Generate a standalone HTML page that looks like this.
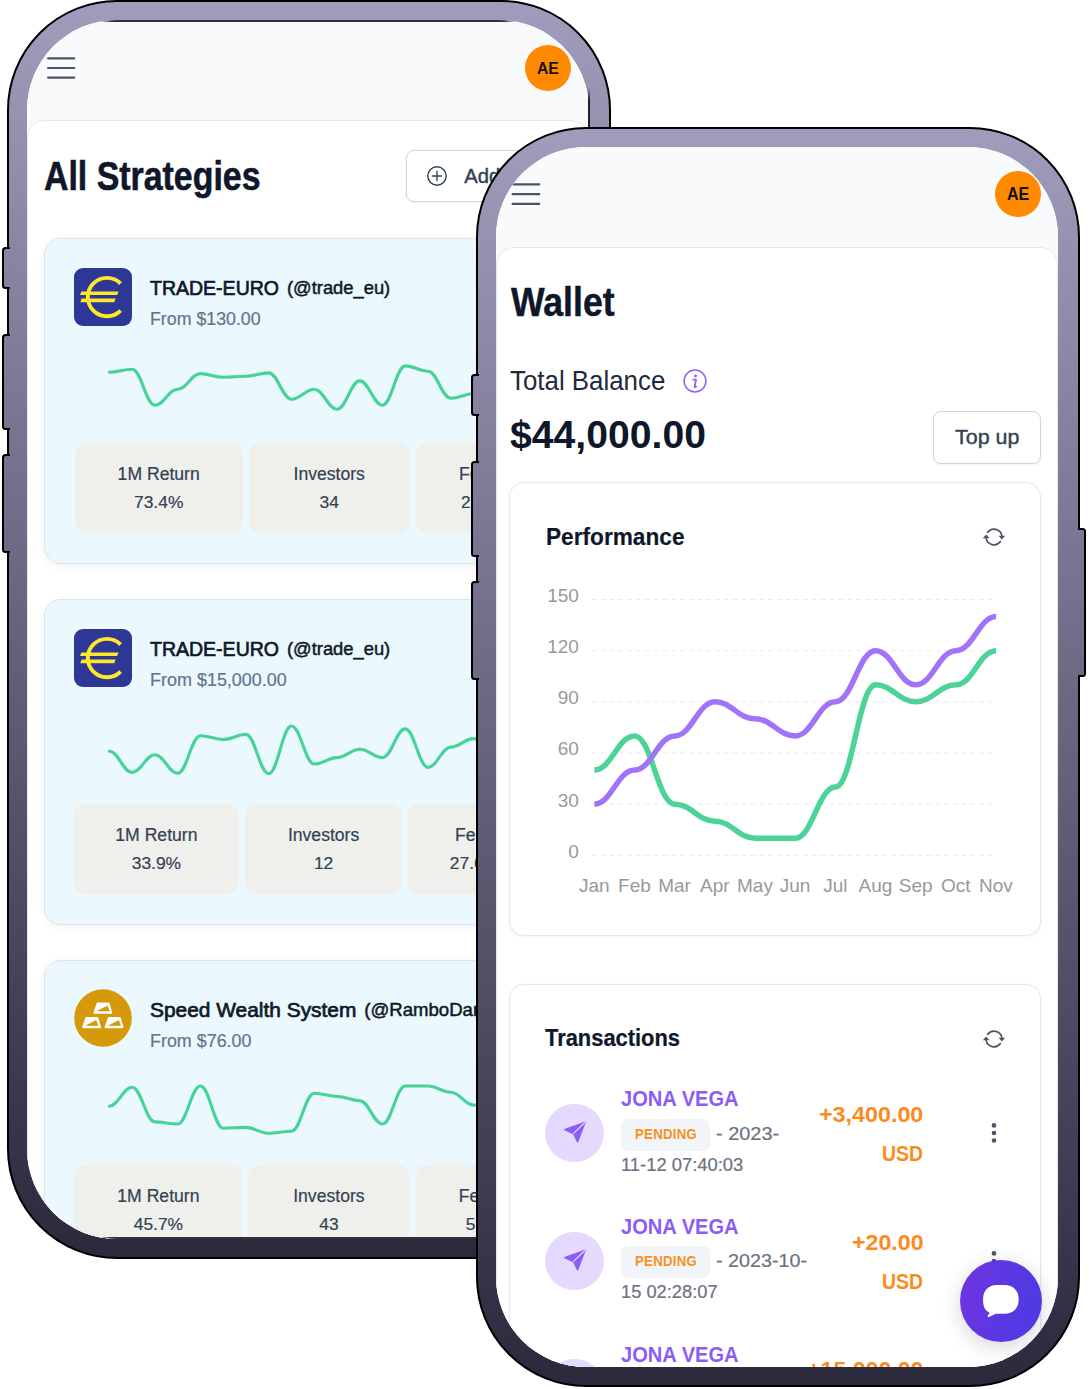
<!DOCTYPE html><html><head><meta charset="utf-8"><title>Wallet</title><style>
*{margin:0;padding:0;box-sizing:border-box}
html,body{width:1089px;height:1389px;overflow:hidden;background:#fff}
body{position:relative;font-family:"Liberation Sans", Arial, sans-serif}
.phone{position:absolute;width:604px;height:1259.3px}
.frame{position:absolute;left:0;top:0;width:604px;height:1259.3px;border:2px solid #000;border-radius:110px;background:linear-gradient(180deg,rgb(161,156,187) 0%,rgb(44,41,61) 100%)}
.sbtn{position:absolute;width:8px;border:2px solid #000}
.sl{border-right:none;border-radius:3.5px 0 0 3.5px}
.sr{border-left:none;border-radius:0 3.5px 3.5px 0}
.screen{position:absolute;overflow:hidden;border-radius:90px;background:#fff}
.abs{position:absolute}
.vline{position:absolute;width:1.8px;background:linear-gradient(180deg,rgba(25,24,32,0),rgba(25,24,32,.95) 12px,rgba(25,24,32,.95) calc(100% - 12px),rgba(25,24,32,0))}
.scrline{position:absolute;left:72px;right:72px;height:2px;background:linear-gradient(90deg,rgba(40,38,52,0),rgba(40,38,52,.95) 12px,rgba(40,38,52,.95) calc(100% - 12px),rgba(40,38,52,0))}
.t{position:absolute;white-space:nowrap;line-height:1;transform-origin:0 0}
.ct{position:absolute;white-space:nowrap;line-height:1;transform:translateX(-50%)}
.rt{position:absolute;white-space:nowrap;line-height:1;text-align:right}
.hdrbg{position:absolute;left:0;top:0;right:0;height:200px;background:#f8fafc}
.avatar{position:absolute;width:46px;height:46px;border-radius:50%;background:#ff8a00}
.panel{position:absolute;left:0;right:0;height:1400px;background:#fff;border:1px solid #e2e8f0;border-radius:18px 18px 0 0}
.obtn{position:absolute;border:1.5px solid #cbd5e1;border-radius:8px;background:#fff;box-shadow:0 1px 2px rgba(15,23,42,.06)}
.scard{position:absolute;width:527px;height:325.8px;background:#ebf8fe;border:1px solid #dde4ee;border-radius:17px;box-shadow:0 2px 8px rgba(15,23,42,.06)}
.stat{position:absolute;background:#eff0eb;border-radius:11px}
.wcard{position:absolute;background:#fff;border:1px solid #e3e8ef;border-radius:15px;box-shadow:0 1px 4px rgba(15,23,42,.05)}
.tav{position:absolute;width:58.4px;height:58.4px;border-radius:50%;background:#e5d9fd}
.badge{position:absolute;width:88.8px;height:32px;border-radius:7px;background:#f1f4f8}
.fab{position:absolute;width:82px;height:82px;border-radius:50%;background:linear-gradient(100deg,#6f34e2 0%,#4a3be3 100%);box-shadow:0 5px 20px rgba(50,45,90,.2)}
.fab svg{display:block}
</style></head><body><div class="phone" style="left:7.0px;top:0.0px"><div class="frame"></div>
<div class="sbtn sl" style="left:-5.5px;top:247.0px;height:42.0px;background:linear-gradient(180deg,rgb(138,133,162),rgb(134,130,158))"></div>
<div class="sbtn sl" style="left:-5.5px;top:334.0px;height:96.0px;background:linear-gradient(180deg,rgb(130,125,154),rgb(121,117,144))"></div>
<div class="sbtn sl" style="left:-5.5px;top:454.0px;height:99.0px;background:linear-gradient(180deg,rgb(119,115,142),rgb(110,105,132))"></div>
<div class="sbtn sr" style="left:601.5px;top:401.0px;height:148.5px;background:linear-gradient(180deg,rgb(124,119,147),rgb(110,106,132))"></div><div class="screen" style="left:19.6px;top:19.8px;width:562.2px;height:1219.4px;"><div class="hdrbg"></div>
<svg class="abs" style="left:0;top:0" width="1" height="1" overflow="visible"><line x1="21.1" y1="38.3" x2="47.3" y2="38.3" stroke="#475569" stroke-width="2.2" stroke-linecap="round"/><line x1="21.1" y1="48.0" x2="47.3" y2="48.0" stroke="#475569" stroke-width="2.2" stroke-linecap="round"/><line x1="21.1" y1="57.6" x2="47.3" y2="57.6" stroke="#475569" stroke-width="2.2" stroke-linecap="round"/></svg>
<div class="avatar" style="left:498.4px;top:25.2px"></div>
<div class="t" id="t0" style="left:510.4px;top:40.5px;font-size:17.40px;color:#111;font-weight:700;transform:scaleX(0.9019);">AE</div>
<div class="panel" style="top:100.2px"></div>
<div class="t" id="t1" style="left:17.4px;top:136.7px;font-size:40.60px;color:#0f172a;font-weight:700;transform:scaleX(0.8348);-webkit-text-stroke:0.60px #0f172a;white-space:nowrap;">All Strategies</div>
<div class="obtn" style="left:379.4px;top:130.5px;width:140px;height:51.9px"></div>
<svg class="abs" style="left:410.3px;top:156.7px;overflow:visible" width="1" height="1"><circle cx="0" cy="0" r="9.2" fill="none" stroke="#334155" stroke-width="1.4"/><path d="M-4.6 0H4.6M0 -4.6V4.6" stroke="#334155" stroke-width="1.4" stroke-linecap="round"/></svg>
<div class="t" id="t2" style="left:437.6px;top:146.4px;font-size:20.20px;color:#334155;font-weight:500;-webkit-text-stroke:0.45px #334155;">Add Strategy</div>
<div class="scard" style="left:17.6px;top:218.2px"></div>
<svg class="abs" style="left:47.6px;top:248.2px" width="58" height="58" viewBox="0 0 58 58"><rect width="58" height="58" rx="9" fill="#2d3795"/><path d="M46.6 15.5 A19.2 19.2 0 1 0 46.6 42.6" fill="none" stroke="#ffe82a" stroke-width="3.9"/><path d="M7.4 23.6 L44.6 23.6 L43.2 27.1 L6.1 27.1 Z" fill="#ffe82a"/><path d="M7.6 30.6 L41.6 30.6 L40.2 34.2 L6.3 34.2 Z" fill="#ffe82a"/></svg>
<div class="t" id="t3" style="left:123.4px;top:257.9px;font-size:20.60px;color:#111827;font-weight:500;transform:scaleX(0.9474);-webkit-text-stroke:0.7px #111827;">TRADE-EURO</div>
<div class="t" id="t4" style="left:260.2px;top:259.6px;font-size:18.60px;color:#111827;font-weight:400;transform:scaleX(0.9859);-webkit-text-stroke:0.5px #111827;">(@trade_eu)</div>
<div class="t" id="t5" style="left:123.4px;top:290.4px;font-size:18.00px;color:#64748b;font-weight:400;transform:scaleX(0.9869);-webkit-text-stroke:0.2px #64748b;">From $130.00</div>
<svg class="abs" style="left:0;top:0;overflow:visible" width="1" height="1"><path d="M82.4 352.2C91.50 352.20 96.06 349.20 105.16 349.20C114.26 349.20 118.82 385.20 127.92 385.20C137.02 385.20 141.58 369.20 150.68 369.20C159.78 369.20 164.34 353.60 173.44 353.60C182.54 353.60 187.10 357.20 196.20 357.20C205.30 357.20 209.86 356.20 218.96 356.20C228.06 356.20 232.62 352.90 241.72 352.90C250.82 352.90 255.38 379.20 264.48 379.20C273.58 379.20 278.14 369.20 287.24 369.20C296.34 369.20 300.90 389.20 310.00 389.20C319.10 389.20 323.66 360.90 332.76 360.90C341.86 360.90 346.42 385.20 355.52 385.20C364.62 385.20 369.18 345.90 378.28 345.90C387.38 345.90 391.94 351.20 401.04 351.20C410.14 351.20 414.70 378.20 423.80 378.20C432.90 378.20 437.46 373.70 446.56 373.70C455.66 373.70 460.22 360.20 469.32 360.20C478.42 360.20 482.98 370.20 492.08 370.20" fill="none" stroke="#45d398" stroke-width="3.1" stroke-linejoin="round" stroke-linecap="round"/></svg>
<div class="stat" style="left:48.0px;top:423.7px;width:168.2px;height:90.0px"></div><div class="ct" style="left:132.1px;top:446.0px;font-size:17.6px;color:#334155;-webkit-text-stroke:0.2px #334155">1M Return</div><div class="ct" style="left:132.1px;top:474.0px;font-size:17.4px;color:#334155;-webkit-text-stroke:0.2px #334155">73.4%</div>
<div class="stat" style="left:222.1px;top:423.7px;width:161.0px;height:90.0px"></div><div class="ct" style="left:302.6px;top:446.0px;font-size:17.6px;color:#334155;-webkit-text-stroke:0.2px #334155">Investors</div><div class="ct" style="left:302.6px;top:474.0px;font-size:17.4px;color:#334155;-webkit-text-stroke:0.2px #334155">34</div>
<div class="stat" style="left:389.4px;top:423.7px;width:125.0px;height:90.0px"></div><div class="ct" style="left:451.9px;top:446.0px;font-size:17.6px;color:#334155;-webkit-text-stroke:0.2px #334155">Fees</div><div class="ct" style="left:451.9px;top:474.0px;font-size:17.4px;color:#334155;-webkit-text-stroke:0.2px #334155">20%</div>
<div class="scard" style="left:17.6px;top:579.2px"></div>
<svg class="abs" style="left:47.6px;top:609.2px" width="58" height="58" viewBox="0 0 58 58"><rect width="58" height="58" rx="9" fill="#2d3795"/><path d="M46.6 15.5 A19.2 19.2 0 1 0 46.6 42.6" fill="none" stroke="#ffe82a" stroke-width="3.9"/><path d="M7.4 23.6 L44.6 23.6 L43.2 27.1 L6.1 27.1 Z" fill="#ffe82a"/><path d="M7.6 30.6 L41.6 30.6 L40.2 34.2 L6.3 34.2 Z" fill="#ffe82a"/></svg>
<div class="t" id="t6" style="left:123.4px;top:618.9px;font-size:20.60px;color:#111827;font-weight:500;transform:scaleX(0.9474);-webkit-text-stroke:0.7px #111827;">TRADE-EURO</div>
<div class="t" id="t7" style="left:260.2px;top:620.6px;font-size:18.60px;color:#111827;font-weight:400;transform:scaleX(0.9859);-webkit-text-stroke:0.5px #111827;">(@trade_eu)</div>
<div class="t" id="t8" style="left:123.4px;top:651.4px;font-size:18.00px;color:#64748b;font-weight:400;transform:scaleX(0.9979);-webkit-text-stroke:0.2px #64748b;">From $15,000.00</div>
<svg class="abs" style="left:0;top:0;overflow:visible" width="1" height="1"><path d="M82.4 731.3C91.50 731.30 96.06 752.40 105.16 752.40C114.26 752.40 118.82 734.70 127.92 734.70C137.02 734.70 141.58 753.30 150.68 753.30C159.78 753.30 164.34 715.70 173.44 715.70C182.54 715.70 187.10 719.50 196.20 719.50C205.30 719.50 209.86 714.40 218.96 714.40C228.06 714.40 232.62 753.70 241.72 753.70C250.82 753.70 255.38 706.00 264.48 706.00C273.58 706.00 278.14 744.00 287.24 744.00C296.34 744.00 300.90 737.60 310.00 737.60C319.10 737.60 323.66 729.20 332.76 729.20C341.86 729.20 346.42 737.60 355.52 737.60C364.62 737.60 369.18 708.90 378.28 708.90C387.38 708.90 391.94 747.40 401.04 747.40C410.14 747.40 414.70 727.10 423.80 727.10C432.90 727.10 437.46 718.60 446.56 718.60C455.66 718.60 460.22 730.20 469.32 730.20C478.42 730.20 482.98 740.20 492.08 740.20" fill="none" stroke="#45d398" stroke-width="3.1" stroke-linejoin="round" stroke-linecap="round"/></svg>
<div class="stat" style="left:47.8px;top:784.7px;width:163.9px;height:90.0px"></div><div class="ct" style="left:129.8px;top:807.0px;font-size:17.6px;color:#334155;-webkit-text-stroke:0.2px #334155">1M Return</div><div class="ct" style="left:129.8px;top:835.0px;font-size:17.4px;color:#334155;-webkit-text-stroke:0.2px #334155">33.9%</div>
<div class="stat" style="left:218.9px;top:784.7px;width:156.3px;height:90.0px"></div><div class="ct" style="left:297.0px;top:807.0px;font-size:17.6px;color:#334155;-webkit-text-stroke:0.2px #334155">Investors</div><div class="ct" style="left:297.0px;top:835.0px;font-size:17.4px;color:#334155;-webkit-text-stroke:0.2px #334155">12</div>
<div class="stat" style="left:381.5px;top:784.7px;width:132.9px;height:90.0px"></div><div class="ct" style="left:447.9px;top:807.0px;font-size:17.6px;color:#334155;-webkit-text-stroke:0.2px #334155">Fees</div><div class="ct" style="left:447.9px;top:835.0px;font-size:17.4px;color:#334155;-webkit-text-stroke:0.2px #334155">27.6%</div>
<div class="scard" style="left:17.6px;top:940.2px"></div>
<svg class="abs" style="left:47.6px;top:969.7px" width="58" height="58" viewBox="0 0 58 58"><circle cx="29" cy="29" r="28.8" fill="#d6990a"/><path d="M23.6 14.7 L34.6 14.7 L37.2 23.7 L20.6 23.7 Z" fill="#fff" stroke="#fff" stroke-width="2.2" stroke-linejoin="round"/><path d="M23.6 22.0 L33.4 17.0 L35.4 22.0 Z" fill="#d6990a" stroke="#d6990a" stroke-width="0.6" stroke-linejoin="round"/><path d="M12.3 29.2 L23.3 29.2 L25.9 38.2 L9.3 38.2 Z" fill="#fff" stroke="#fff" stroke-width="2.2" stroke-linejoin="round"/><path d="M12.3 36.5 L22.1 31.5 L24.1 36.5 Z" fill="#d6990a" stroke="#d6990a" stroke-width="0.6" stroke-linejoin="round"/><path d="M34.8 29.2 L45.8 29.2 L48.4 38.2 L31.8 38.2 Z" fill="#fff" stroke="#fff" stroke-width="2.2" stroke-linejoin="round"/><path d="M34.8 36.5 L44.6 31.5 L46.6 36.5 Z" fill="#d6990a" stroke="#d6990a" stroke-width="0.6" stroke-linejoin="round"/></svg>
<div class="t" id="t9" style="left:123.4px;top:979.9px;font-size:20.60px;color:#111827;font-weight:500;transform:scaleX(1.0149);-webkit-text-stroke:0.7px #111827;">Speed Wealth System</div>
<div class="t" id="t10" style="left:337.6px;top:981.6px;font-size:18.60px;color:#111827;font-weight:400;-webkit-text-stroke:0.5px #111827;">(@RamboDanny)</div>
<div class="t" id="t11" style="left:123.4px;top:1012.4px;font-size:18.00px;color:#64748b;font-weight:400;transform:scaleX(0.9945);-webkit-text-stroke:0.2px #64748b;">From $76.00</div>
<svg class="abs" style="left:0;top:0;overflow:visible" width="1" height="1"><path d="M82.4 1086.2C91.50 1086.20 96.06 1067.20 105.16 1067.20C114.26 1067.20 118.82 1101.90 127.92 1101.90C137.02 1101.90 141.58 1104.00 150.68 1104.00C159.78 1104.00 164.34 1066.00 173.44 1066.00C182.54 1066.00 187.10 1108.20 196.20 1108.20C205.30 1108.20 209.86 1107.40 218.96 1107.40C228.06 1107.40 232.62 1113.30 241.72 1113.30C250.82 1113.30 255.38 1111.20 264.48 1111.20C273.58 1111.20 278.14 1073.20 287.24 1073.20C296.34 1073.20 300.90 1076.50 310.00 1076.50C319.10 1076.50 323.66 1080.70 332.76 1080.70C341.86 1080.70 346.42 1104.00 355.52 1104.00C364.62 1104.00 369.18 1066.00 378.28 1066.00C387.38 1066.00 391.94 1066.00 401.04 1066.00C410.14 1066.00 414.70 1072.20 423.80 1072.20C432.90 1072.20 437.46 1085.00 446.56 1085.00C455.66 1085.00 460.22 1090.20 469.32 1090.20C478.42 1090.20 482.98 1080.20 492.08 1080.20" fill="none" stroke="#45d398" stroke-width="3.1" stroke-linejoin="round" stroke-linecap="round"/></svg>
<div class="stat" style="left:47.8px;top:1145.7px;width:168.1px;height:90.0px"></div><div class="ct" style="left:131.8px;top:1168.0px;font-size:17.6px;color:#334155;-webkit-text-stroke:0.2px #334155">1M Return</div><div class="ct" style="left:131.8px;top:1196.0px;font-size:17.4px;color:#334155;-webkit-text-stroke:0.2px #334155">45.7%</div>
<div class="stat" style="left:221.8px;top:1145.7px;width:161.0px;height:90.0px"></div><div class="ct" style="left:302.3px;top:1168.0px;font-size:17.6px;color:#334155;-webkit-text-stroke:0.2px #334155">Investors</div><div class="ct" style="left:302.3px;top:1196.0px;font-size:17.4px;color:#334155;-webkit-text-stroke:0.2px #334155">43</div>
<div class="stat" style="left:389.1px;top:1145.7px;width:125.3px;height:90.0px"></div><div class="ct" style="left:451.8px;top:1168.0px;font-size:17.6px;color:#334155;-webkit-text-stroke:0.2px #334155">Fees</div><div class="ct" style="left:451.8px;top:1196.0px;font-size:17.4px;color:#334155;-webkit-text-stroke:0.2px #334155">5%</div><div class="scrline" style="top:0"></div><div class="scrline" style="bottom:0"></div></div><div class="vline" style="left:581.2px;top:88px;height:1083px"></div></div><div class="phone" style="left:476.3px;top:127.3px"><div class="frame"></div>
<div class="sbtn sl" style="left:-5.5px;top:247.0px;height:42.0px;background:linear-gradient(180deg,rgb(138,133,162),rgb(134,130,158))"></div>
<div class="sbtn sl" style="left:-5.5px;top:334.0px;height:96.0px;background:linear-gradient(180deg,rgb(130,125,154),rgb(121,117,144))"></div>
<div class="sbtn sl" style="left:-5.5px;top:454.0px;height:99.0px;background:linear-gradient(180deg,rgb(119,115,142),rgb(110,105,132))"></div>
<div class="sbtn sr" style="left:601.5px;top:401.0px;height:148.5px;background:linear-gradient(180deg,rgb(124,119,147),rgb(110,106,132))"></div><div class="screen" style="left:19.6px;top:20.0px;width:562.2px;height:1219.4px;"><div class="hdrbg"></div>
<svg class="abs" style="left:0;top:0" width="1" height="1" overflow="visible"><line x1="16.6" y1="37.3" x2="43.3" y2="37.3" stroke="#475569" stroke-width="2.2" stroke-linecap="round"/><line x1="16.6" y1="47.1" x2="43.3" y2="47.1" stroke="#475569" stroke-width="2.2" stroke-linecap="round"/><line x1="16.6" y1="56.8" x2="43.3" y2="56.8" stroke="#475569" stroke-width="2.2" stroke-linecap="round"/></svg>
<div class="avatar" style="left:499.4px;top:23.7px"></div>
<div class="t" id="t12" style="left:511.3px;top:39.0px;font-size:17.60px;color:#111;font-weight:700;transform:scaleX(0.9119);">AE</div>
<div class="panel" style="top:100.2px"></div>
<div class="t" id="t13" style="left:15.1px;top:134.9px;font-size:41.00px;color:#0f172a;font-weight:700;transform:scaleX(0.8690);-webkit-text-stroke:0.48px #0f172a;">Wallet</div>
<div class="t" id="t14" style="left:14.1px;top:219.3px;font-size:27.60px;color:#1e293b;font-weight:400;transform:scaleX(0.9374);white-space:nowrap;">Total Balance</div>
<svg class="abs" style="left:199.5px;top:233.4px;overflow:visible" width="1" height="1"><circle r="10.9" fill="none" stroke="#9061f9" stroke-width="1.5"/><circle cx="0.5" cy="-5" r="1.45" fill="#9061f9"/><path d="M-1.8 -1.3 H1.0 L-0.5 5.7 C-0.6 6.3 0.3 6.2 1.2 5.6" fill="none" stroke="#9061f9" stroke-width="1.8" stroke-linecap="round" stroke-linejoin="round"/></svg>
<div class="t" id="t15" style="left:14.5px;top:268.1px;font-size:39.20px;color:#0f172a;font-weight:700;transform:scaleX(0.9993);white-space:nowrap;">$44,000.00</div>
<div class="obtn" style="left:437.0px;top:263.6px;width:108.6px;height:53.0px"></div>
<div class="t" id="t16" style="left:459.1px;top:280.1px;font-size:20.80px;color:#334155;font-weight:500;transform:scaleX(1.0328);-webkit-text-stroke:0.4px #334155;">Top up</div>
<div class="wcard" style="left:13.3px;top:335.2px;width:531.8px;height:453.5px"></div>
<div class="t" id="t17" style="left:50.1px;top:377.5px;font-size:24.60px;color:#0f172a;font-weight:700;transform:scaleX(0.9210);-webkit-text-stroke:0.17px #0f172a;white-space:nowrap;">Performance</div>
<svg class="abs" style="left:497.9px;top:390.1px;overflow:visible" width="1" height="1"><g fill="none" stroke="#4b5563" stroke-width="1.6" stroke-linecap="round"><path d="M-6.4 -4.6 A8 8 0 0 1 7.9 -1.2"/><path d="M6.4 4.6 A8 8 0 0 1 -7.9 1.2"/></g><path d="M4.6 -1.2 L11.2 -1.2 L7.9 2.6 Z" fill="#4b5563"/><path d="M-4.6 1.2 L-11.2 1.2 L-7.9 -2.6 Z" fill="#4b5563"/></svg>
<svg class="abs" style="left:0;top:0;overflow:visible" width="1" height="1"><line x1="96.1" y1="708.3" x2="500.1" y2="708.3" stroke="#ebebeb" stroke-width="1" stroke-dasharray="4.5 4.3"/><line x1="96.1" y1="657.1" x2="500.1" y2="657.1" stroke="#ebebeb" stroke-width="1" stroke-dasharray="4.5 4.3"/><line x1="96.1" y1="606.0" x2="500.1" y2="606.0" stroke="#ebebeb" stroke-width="1" stroke-dasharray="4.5 4.3"/><line x1="96.1" y1="554.8" x2="500.1" y2="554.8" stroke="#ebebeb" stroke-width="1" stroke-dasharray="4.5 4.3"/><line x1="96.1" y1="503.7" x2="500.1" y2="503.7" stroke="#ebebeb" stroke-width="1" stroke-dasharray="4.5 4.3"/><line x1="96.1" y1="452.5" x2="500.1" y2="452.5" stroke="#ebebeb" stroke-width="1" stroke-dasharray="4.5 4.3"/><path d="M98.4 623.0C115.27 623.03 121.70 588.93 138.57 588.93C155.44 588.93 161.87 657.14 178.74 657.14C195.61 657.14 202.04 674.19 218.91 674.19C235.78 674.19 242.21 691.25 259.08 691.25C275.95 691.25 282.38 691.25 299.25 691.25C316.12 691.25 322.55 640.09 339.42 640.09C356.29 640.09 362.72 537.77 379.59 537.77C396.46 537.77 402.89 554.82 419.76 554.82C436.63 554.82 443.06 537.77 459.93 537.77C476.80 537.77 483.23 503.66 500.10 503.66" fill="none" stroke="#4dd397" stroke-width="5.5" stroke-linecap="butt" stroke-linejoin="round"/><path d="M98.4 657.1C115.27 657.14 121.70 623.03 138.57 623.03C155.44 623.03 161.87 588.93 178.74 588.93C195.61 588.93 202.04 554.82 218.91 554.82C235.78 554.82 242.21 571.87 259.08 571.87C275.95 571.87 282.38 588.93 299.25 588.93C316.12 588.93 322.55 554.82 339.42 554.82C356.29 554.82 362.72 503.66 379.59 503.66C396.46 503.66 402.89 537.77 419.76 537.77C436.63 537.77 443.06 503.66 459.93 503.66C476.80 503.66 483.23 469.55 500.10 469.55" fill="none" stroke="#a073fa" stroke-width="5.5" stroke-linecap="butt" stroke-linejoin="round"/></svg>
<div class="rt" style="right:479.2px;top:694.4px;font-size:19px;color:#999">0</div>
<div class="rt" style="right:479.2px;top:643.3px;font-size:19px;color:#999">30</div>
<div class="rt" style="right:479.2px;top:592.1px;font-size:19px;color:#999">60</div>
<div class="rt" style="right:479.2px;top:540.9px;font-size:19px;color:#999">90</div>
<div class="rt" style="right:479.2px;top:489.8px;font-size:19px;color:#999">120</div>
<div class="rt" style="right:479.2px;top:438.6px;font-size:19px;color:#999">150</div>
<div class="ct" style="left:98.4px;top:728.4px;font-size:19px;color:#999">Jan</div>
<div class="ct" style="left:138.6px;top:728.4px;font-size:19px;color:#999">Feb</div>
<div class="ct" style="left:178.7px;top:728.4px;font-size:19px;color:#999">Mar</div>
<div class="ct" style="left:218.9px;top:728.4px;font-size:19px;color:#999">Apr</div>
<div class="ct" style="left:259.1px;top:728.4px;font-size:19px;color:#999">May</div>
<div class="ct" style="left:299.2px;top:728.4px;font-size:19px;color:#999">Jun</div>
<div class="ct" style="left:339.4px;top:728.4px;font-size:19px;color:#999">Jul</div>
<div class="ct" style="left:379.6px;top:728.4px;font-size:19px;color:#999">Aug</div>
<div class="ct" style="left:419.8px;top:728.4px;font-size:19px;color:#999">Sep</div>
<div class="ct" style="left:459.9px;top:728.4px;font-size:19px;color:#999">Oct</div>
<div class="ct" style="left:500.1px;top:728.4px;font-size:19px;color:#999">Nov</div>
<div class="wcard" style="left:13.3px;top:836.3px;width:531.8px;height:600px"></div>
<div class="t" id="t18" style="left:49.4px;top:878.4px;font-size:24.60px;color:#0f172a;font-weight:700;transform:scaleX(0.8898);-webkit-text-stroke:0.24px #0f172a;white-space:nowrap;">Transactions</div>
<svg class="abs" style="left:497.7px;top:891.3px;overflow:visible" width="1" height="1"><g fill="none" stroke="#4b5563" stroke-width="1.6" stroke-linecap="round"><path d="M-6.4 -4.6 A8 8 0 0 1 7.9 -1.2"/><path d="M6.4 4.6 A8 8 0 0 1 -7.9 1.2"/></g><path d="M4.6 -1.2 L11.2 -1.2 L7.9 2.6 Z" fill="#4b5563"/><path d="M-4.6 1.2 L-11.2 1.2 L-7.9 -2.6 Z" fill="#4b5563"/></svg>
<div class="tav" style="left:49.3px;top:956.6px"></div>
<svg class="abs" style="left:78.7px;top:984.7px;overflow:visible" width="1" height="1"><path d="M10.3 -10 L-10.3 -2.4 L-1.6 1.6 L2.6 10.1 Z" fill="#8b5cf6" stroke="#8b5cf6" stroke-width="1.2" stroke-linejoin="round"/><path d="M10.3 -10 L-1.6 1.6" stroke="#e4d8fd" stroke-width="1.3"/></svg>
<div class="t" id="t19" style="left:125.5px;top:941.2px;font-size:21.80px;color:#8b5cf6;font-weight:700;transform:scaleX(0.9218);">JONA VEGA</div>
<div class="badge" style="left:125.5px;top:971.3px"></div>
<div class="t" id="t20" style="left:139.4px;top:979.3px;font-size:14.60px;color:#f7921c;font-weight:700;transform:scaleX(0.9039);letter-spacing:0.3px;">PENDING</div>
<div class="t" id="t21" style="left:219.9px;top:977.4px;font-size:18.60px;color:#6b7280;font-weight:400;transform:scaleX(1.0726);-webkit-text-stroke:0.2px #6b7280;">- 2023-</div>
<div class="t" id="t22" style="left:125.5px;top:1008.4px;font-size:18.60px;color:#6b7280;font-weight:400;transform:scaleX(0.9876);-webkit-text-stroke:0.2px #6b7280;">11-12 07:40:03</div>
<div class="t" id="t23" style="left:323.2px;top:957.6px;font-size:21.40px;color:#fb8b1e;font-weight:700;transform:scaleX(1.0891);white-space:nowrap;">+3,400.00</div>
<div class="t" id="t24" style="left:386.5px;top:996.6px;font-size:21.40px;color:#fb8b1e;font-weight:700;transform:scaleX(0.9076);">USD</div>
<svg class="abs" style="left:498.0px;top:985.7px;overflow:visible" width="1" height="1"><g fill="#4b5563"><circle cx="0" cy="-7.6" r="2.3"/><circle cx="0" cy="0" r="2.3"/><circle cx="0" cy="7.5" r="2.3"/></g></svg>
<div class="tav" style="left:49.3px;top:1084.4px"></div>
<svg class="abs" style="left:78.7px;top:1112.5px;overflow:visible" width="1" height="1"><path d="M10.3 -10 L-10.3 -2.4 L-1.6 1.6 L2.6 10.1 Z" fill="#8b5cf6" stroke="#8b5cf6" stroke-width="1.2" stroke-linejoin="round"/><path d="M10.3 -10 L-1.6 1.6" stroke="#e4d8fd" stroke-width="1.3"/></svg>
<div class="t" id="t25" style="left:125.5px;top:1069.0px;font-size:21.80px;color:#8b5cf6;font-weight:700;transform:scaleX(0.9218);">JONA VEGA</div>
<div class="badge" style="left:125.5px;top:1099.1px"></div>
<div class="t" id="t26" style="left:139.4px;top:1107.1px;font-size:14.60px;color:#f7921c;font-weight:700;transform:scaleX(0.9039);letter-spacing:0.3px;">PENDING</div>
<div class="t" id="t27" style="left:219.9px;top:1105.2px;font-size:18.60px;color:#6b7280;font-weight:400;transform:scaleX(1.0606);-webkit-text-stroke:0.2px #6b7280;">- 2023-10-</div>
<div class="t" id="t28" style="left:125.5px;top:1136.2px;font-size:18.60px;color:#6b7280;font-weight:400;transform:scaleX(0.9834);-webkit-text-stroke:0.2px #6b7280;">15 02:28:07</div>
<div class="t" id="t29" style="left:355.9px;top:1085.4px;font-size:21.40px;color:#fb8b1e;font-weight:700;transform:scaleX(1.0843);white-space:nowrap;">+20.00</div>
<div class="t" id="t30" style="left:386.5px;top:1124.4px;font-size:21.40px;color:#fb8b1e;font-weight:700;transform:scaleX(0.9076);">USD</div>
<svg class="abs" style="left:498.0px;top:1113.5px;overflow:visible" width="1" height="1"><g fill="#4b5563"><circle cx="0" cy="-7.6" r="2.3"/><circle cx="0" cy="0" r="2.3"/><circle cx="0" cy="7.5" r="2.3"/></g></svg>
<div class="tav" style="left:49.3px;top:1212.2px"></div>
<svg class="abs" style="left:78.7px;top:1240.3px;overflow:visible" width="1" height="1"><path d="M10.3 -10 L-10.3 -2.4 L-1.6 1.6 L2.6 10.1 Z" fill="#8b5cf6" stroke="#8b5cf6" stroke-width="1.2" stroke-linejoin="round"/><path d="M10.3 -10 L-1.6 1.6" stroke="#e4d8fd" stroke-width="1.3"/></svg>
<div class="t" id="t31" style="left:125.5px;top:1196.8px;font-size:21.80px;color:#8b5cf6;font-weight:700;transform:scaleX(0.9218);">JONA VEGA</div>
<div class="badge" style="left:125.5px;top:1226.9px"></div>
<div class="t" id="t32" style="left:139.4px;top:1234.9px;font-size:14.60px;color:#f7921c;font-weight:700;transform:scaleX(0.9039);letter-spacing:0.3px;">PENDING</div>
<div class="t" id="t33" style="left:219.9px;top:1233.0px;font-size:18.60px;color:#6b7280;font-weight:400;transform:scaleX(1.0726);-webkit-text-stroke:0.2px #6b7280;">- 2023-</div>
<div class="t" id="t34" style="left:125.5px;top:1264.0px;font-size:18.60px;color:#6b7280;font-weight:400;transform:scaleX(0.9767);-webkit-text-stroke:0.2px #6b7280;">09-01 10:12:44</div>
<div class="t" id="t35" style="left:311.0px;top:1213.2px;font-size:21.40px;color:#fb8b1e;font-weight:700;transform:scaleX(1.0821);white-space:nowrap;">+15,000.00</div>
<div class="t" id="t36" style="left:386.5px;top:1252.2px;font-size:21.40px;color:#fb8b1e;font-weight:700;transform:scaleX(0.9076);">USD</div>
<svg class="abs" style="left:498.0px;top:1241.3px;overflow:visible" width="1" height="1"><g fill="#4b5563"><circle cx="0" cy="-7.6" r="2.3"/><circle cx="0" cy="0" r="2.3"/><circle cx="0" cy="7.5" r="2.3"/></g></svg>
<div class="fab" style="left:464.3px;top:1112.9px"><svg width="82" height="82" viewBox="0 0 82 82"><path d="M36.6 25.0 H45.1 C52.9 25.0 58.6 30.7 58.6 38.5 V40.3 C58.6 48.1 52.9 53.8 45.1 53.8 H35.5 C33.4 54.9 30.8 56.6 28.5 56.9 C27.5 57 27.2 56.3 27.8 55.5 C28.8 54.4 29.4 53.3 29.4 52.4 C25.4 50.8 23.1 47.5 23.1 40.3 V38.5 C23.1 30.7 28.8 25.0 36.6 25.0 Z" fill="#fff"/></svg></div></div></div></body></html>
